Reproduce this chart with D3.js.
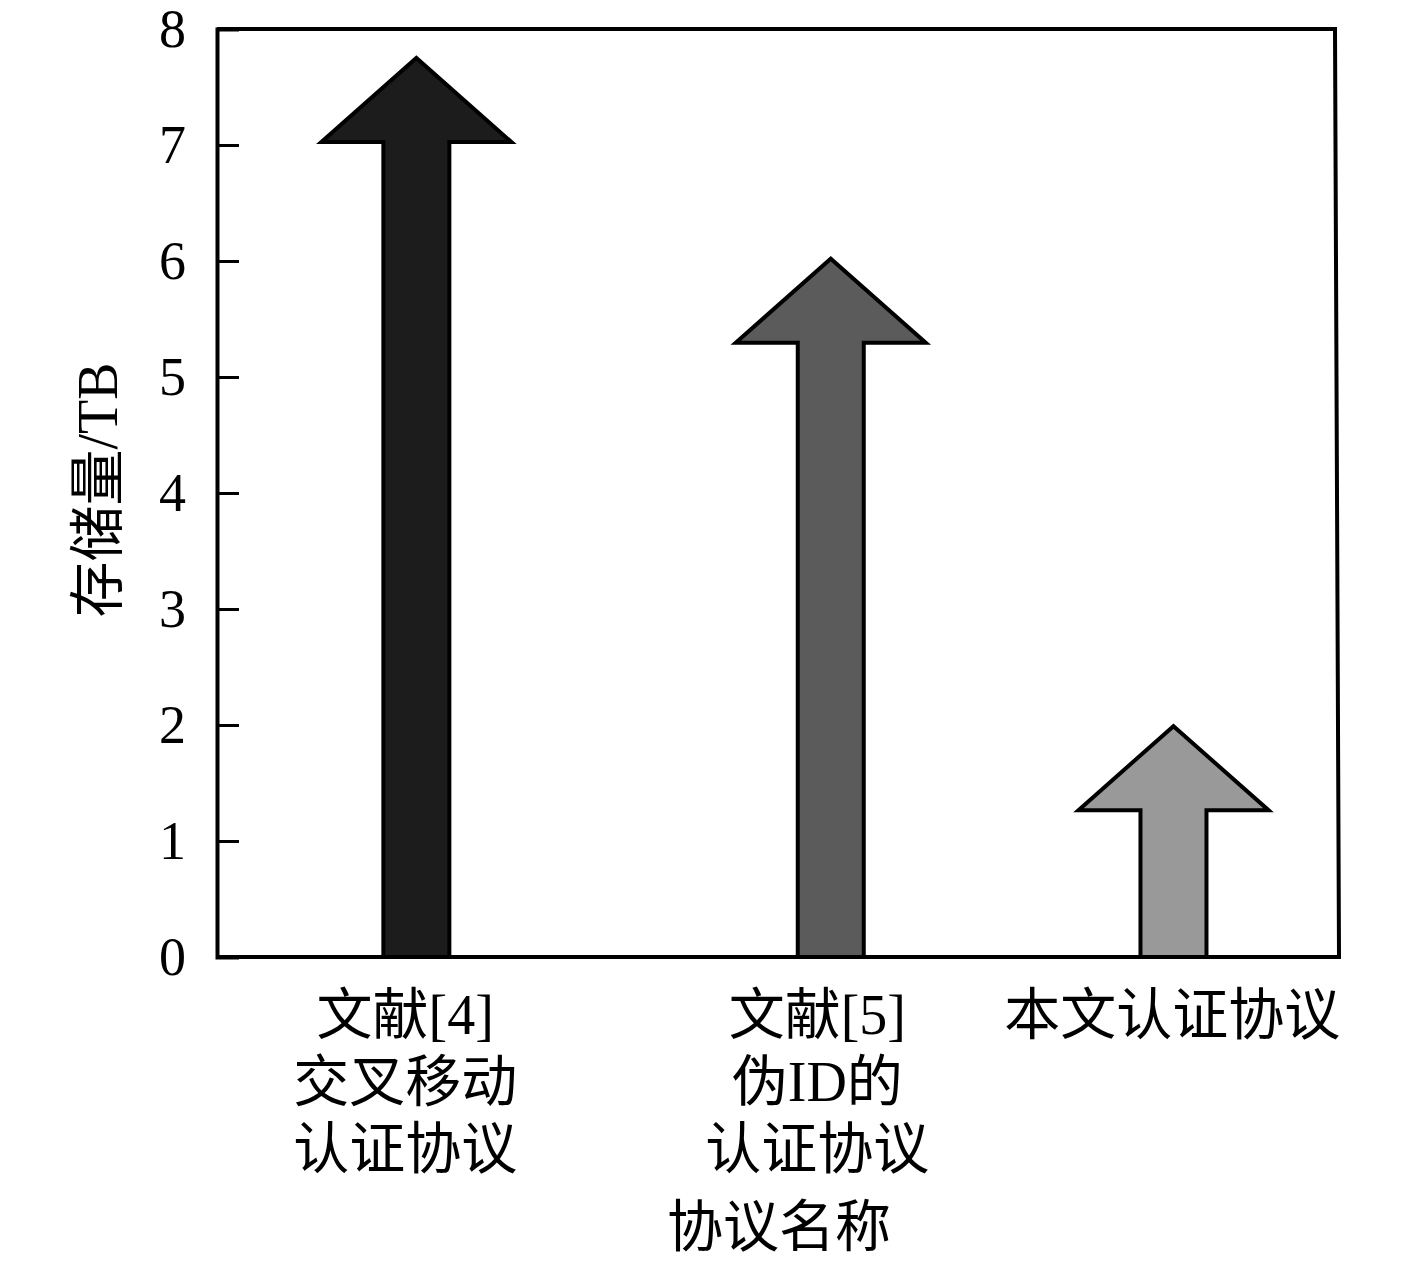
<!DOCTYPE html>
<html><head><meta charset="utf-8">
<script src="https://cdn.jsdelivr.net/npm/d3@7"></script>
<style>body{margin:0;background:#fff}</style>
</head><body>
<svg id="c" width="1417" height="1261"></svg>
<script>
// data
const categories = [["文献[4]","交叉移动","认证协议"],["文献[5]","伪ID的","认证协议"],["本文认证协议"]];
const positions = [17.8, 54.8, 85.4];     // category position along x (0-100 of plot width)
const labelPos = [16.8, 53.6, 85.3];
const values = [7.75, 6.02, 1.99];         // storage (TB), arrow tip
const colors = ["#1c1c1c", "#5b5b5b", "#999999"];
const yTicks = [0,1,2,3,4,5,6,7,8];
const yTitle = "存储量/TB";
const xTitle = "协议名称";

const svg = d3.select("#c");
const L = 217, R = 1337, T = 29, B = 957;
const x = d3.scaleLinear().domain([0,100]).range([L,R]);
const y = d3.scaleLinear().domain([0,8]).range([B,T]);
const serif = "'Liberation Serif','Noto Sans CJK SC',serif";

// frame
svg.append("path").attr("d",`M${L},${T}L${R-2},${T}L${R+2},${B}`).attr("fill","none").attr("stroke","#000").attr("stroke-width",4);

// y axis
const ya = svg.append("g").attr("transform",`translate(${L},0)`)
  .call(d3.axisLeft(y).tickValues(yTicks).tickSize(-22).tickPadding(31).tickFormat(d3.format("d")));
ya.select(".domain").attr("stroke","#000").attr("stroke-width",4);
ya.selectAll(".tick line").attr("stroke","#000").attr("stroke-width",3);
ya.selectAll(".tick text").attr("font-family",serif).attr("font-size",54).attr("fill","#000").attr("dy","0.33em");

// arrows
const shaftHalf = 33, headHalf = 95, headDepth = 84;
values.forEach((v,i)=>{
  const cx = x(positions[i]), ty = y(v), by = ty + headDepth, y0 = y(0);
  const p = `M${cx-shaftHalf},${y0}L${cx-shaftHalf},${by}L${cx-headHalf},${by}L${cx},${ty}L${cx+headHalf},${by}L${cx+shaftHalf},${by}L${cx+shaftHalf},${y0}Z`;
  svg.append("path").attr("d",p).attr("fill",colors[i]).attr("stroke","#000").attr("stroke-width",4).attr("stroke-linejoin","miter");
});

// x axis line
svg.append("line").attr("x1",L).attr("x2",R+4).attr("y1",B).attr("y2",B).attr("stroke","#000").attr("stroke-width",4);

// category labels
categories.forEach((lines,i)=>{
  const t = svg.append("text").attr("text-anchor","middle").attr("font-family",serif).attr("font-size",56).attr("fill","#000");
  lines.forEach((s,j)=>t.append("tspan").attr("x",x(labelPos[i])).attr("y",1034+j*67).text(s));
});

// axis titles
svg.append("text").attr("x",x(50)+2).attr("y",1246).attr("text-anchor","middle")
  .attr("font-family",serif).attr("font-size",56).text(xTitle);
svg.append("text").attr("transform","translate(117,490) rotate(-90)").attr("text-anchor","middle")
  .attr("font-family",serif).attr("font-size",56).text(yTitle);
</script>
</body></html>
